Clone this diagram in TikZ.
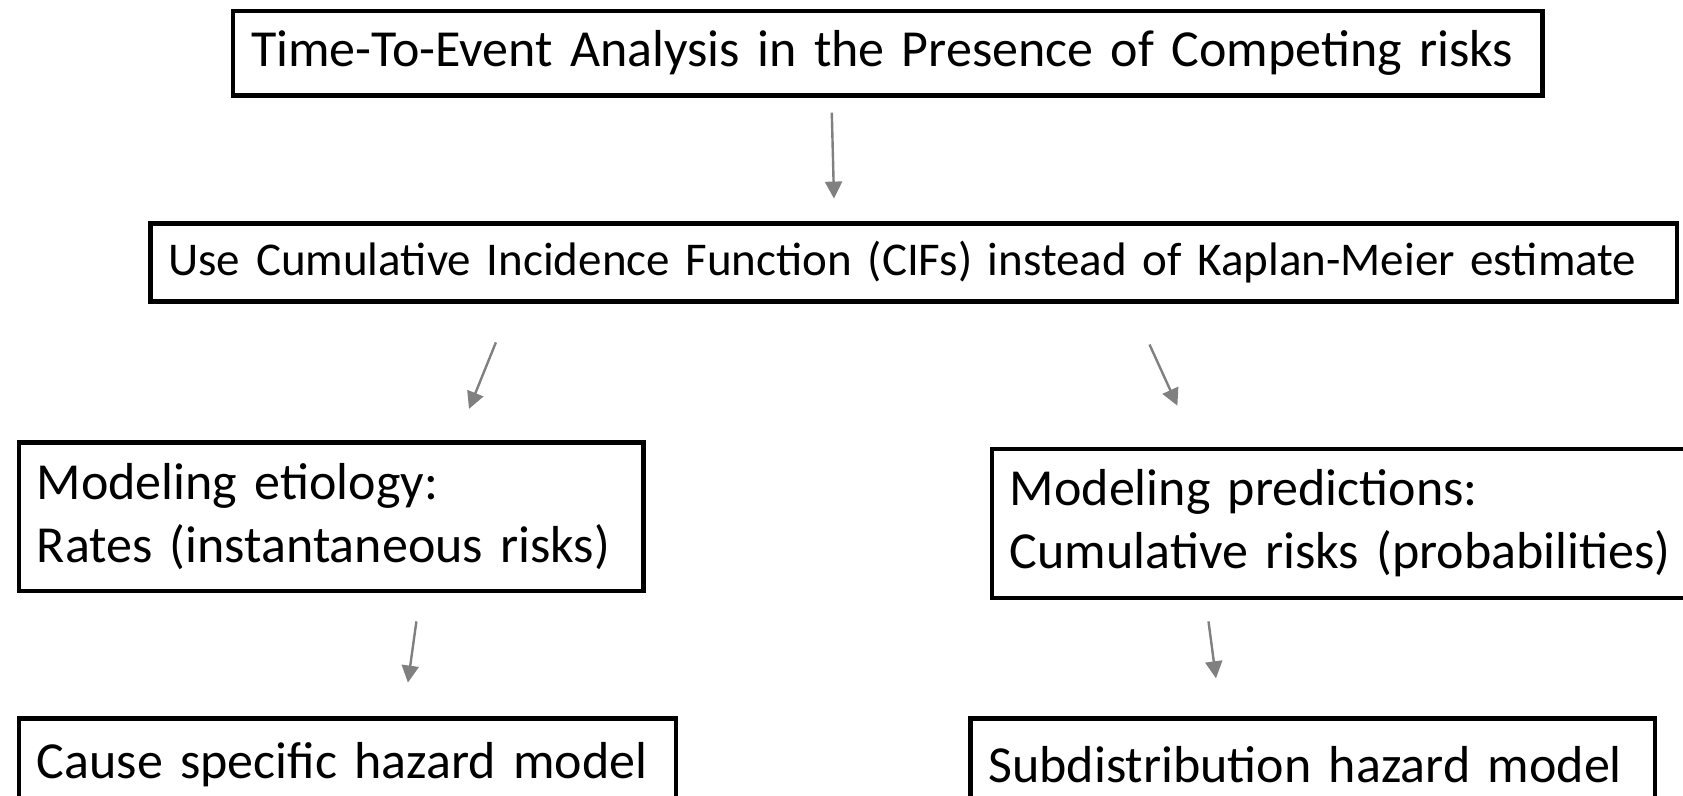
\documentclass[tikz,border=0pt]{standalone}
\usepackage{fontspec}
\setmainfont{Carlito}
\usetikzlibrary{arrows.meta}

\begin{document}
\begin{tikzpicture}[x=0.5pt, y=-0.5pt,
	box/.style={draw, line width=2.3pt, inner xsep=9pt, inner ysep=0pt, align=left, anchor=north west, font=\fontsize{26}{31.5}\selectfont},
	flow/.style={draw=gray, line width=1.2pt, -{Triangle[length=8.5pt,width=8.5pt]}}]

\useasboundingbox (0,0) rectangle (1683,796);

\node[box, text width=636.7pt, minimum height=42.4pt] (tte) at (230.8, 8.6) {\mbox{Time-To-Event Analysis in the Presence of Competing risks}};
\node[box, text width=745.2pt, minimum height=39.2pt, font=\fontsize{23.5}{29}\selectfont] (cif) at (148.1, 221.1) {\mbox{Use Cumulative Incidence Function (CIFs) instead of Kaplan-Meier estimate}};

\node[box, text width=294.4pt, minimum height=74.3pt] (etio) at (16.5, 440) {\mbox{Modeling etiology:}\\\mbox{Rates (instantaneous risks)}};
\node[box, text width=337pt, minimum height=74.5pt] (pred) at (989.6, 446.8) {\mbox{Modeling predictions:}\\\mbox{Cumulative risks (probabilities)}};

\node[box, text width=310.5pt, minimum height=46pt] (csh) at (16.5, 716) {\mbox{Cause specific hazard model}};
\node[box, text width=324.3pt, minimum height=46pt] (sdh) at (968.1, 716) {\mbox{Subdistribution hazard model}};

% arrows
\coordinate (a1) at (831.8, 112.7);  \coordinate (b1) at (834, 198.6);
\coordinate (a2) at (495.9, 342.4);  \coordinate (b2) at (469, 408.9);
\coordinate (a3) at (1149.5, 344.5); \coordinate (b3) at (1177.4, 405.7);
\coordinate (a4) at (416.4, 621.4);  \coordinate (b4) at (407.9, 682.6);
\coordinate (a5) at (1208.5, 621.4); \coordinate (b5) at (1216, 678.3);

\draw[flow] (a1) -- (b1);
\draw[flow] (a2) -- (b2);
\draw[flow] (a3) -- (b3);
\draw[flow] (a4) -- (b4);
\draw[flow] (a5) -- (b5);

\end{tikzpicture}
\end{document}
